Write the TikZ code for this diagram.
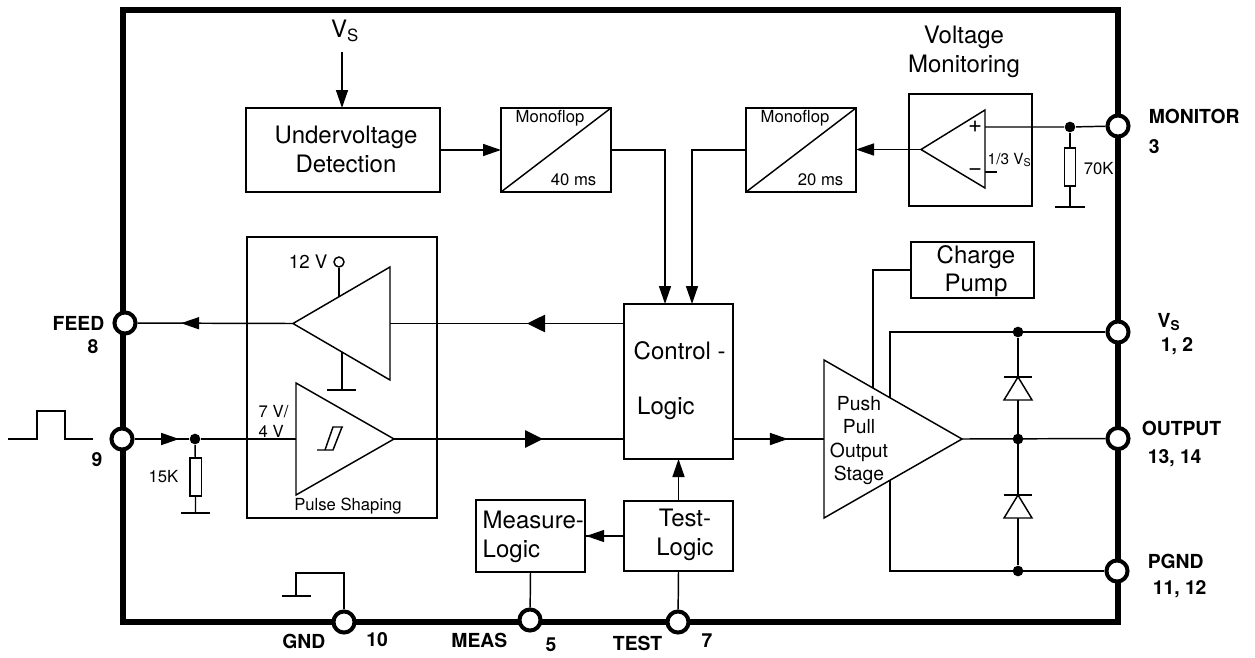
\documentclass[tikz,border=0pt]{standalone}
\usepackage{fontspec}
\setmainfont{TeX Gyre Heros}
\usetikzlibrary{arrows.meta}
\usetikzlibrary{decorations.markings}
\newcommand{\fsize}[1]{\fontsize{#1}{#1}\selectfont}
\begin{document}
\begin{tikzpicture}[x=0.75pt,y=-0.75pt,line width=1.1pt,line join=miter,
         frame/.style = {line width=3.9pt},
         pin/.style = {circle,draw,fill=white,line width=3pt,minimum size=15.8pt,inner sep=0pt},
         dot/.style = {circle,fill=black,minimum size=8pt,inner sep=0pt},
         block/.style = {draw,inner sep=0pt,outer sep=0pt},
         amp/.style = {draw,fill=white},
         res/.style = {draw,fill=white,inner sep=0pt,minimum width=8.6pt,minimum height=28.5pt},
         gndbar/.style = {line width=1.8pt},
         big/.style = {font=\fontsize{18}{21.5}\selectfont,align=center,inner sep=0pt},
         mid/.style = {font=\fsize{14},inner sep=0pt},
         small/.style = {font=\fsize{12.5},inner sep=0pt},
         pinlabel/.style = {font=\fsize{14.5}\bfseries,inner sep=0pt},
         flow/.style = {postaction={decorate},decoration={markings,mark=at position #1 with
            {\arrow{Triangle[length=13.5pt,width=9pt]}}}},
         flowbig/.style = {postaction={decorate},decoration={markings,mark=at position #1 with
            {\arrow{Triangle[length=13.5pt,width=13pt]}}}},
         tipend/.style = {-{Triangle[length=13.5pt,width=9pt]}}
]
      \useasboundingbox (0,0) rectangle (1255,657);
      \draw[frame] (123,10) rectangle (1118,622);

      % pins
      \node[pin] (pmon) at (1118,126) {};
      \node[pin] (pvs)  at (1118,332) {};
      \node[pin] (pout) at (1118,438.5) {};
      \node[pin] (pgnd) at (1117,571) {};
      \node[pin] (pfeed) at (125,323) {};
      \node[pin] (pin9) at (122,439) {};
      \node[pin] (pgn)  at (344,622) {};
      \node[pin] (pmeas) at (530,620) {};
      \node[pin] (ptest) at (678,622) {};

      % blocks
      \node[block,minimum width=145.5pt,minimum height=63pt] (uvd) at (343,150) {};
      \node[block,minimum width=82.5pt,minimum height=63pt] (monoa) at (556,150) {};
      \node[block,minimum width=82.5pt,minimum height=63pt] (monob) at (801,150) {};
      \node[block,minimum width=92.25pt,minimum height=84pt] (vmon) at (970.5,150) {};
      \node[block,minimum width=92.25pt,minimum height=42pt] (cpump) at (972.5,270) {};
      \node[block,minimum width=142.5pt,minimum height=210.75pt] (pshape) at (342,377.5) {};
      \node[block,minimum width=81.75pt,minimum height=116.25pt] (ctrl) at (678.5,381.5) {};
      \node[block,minimum width=81.75pt,minimum height=52.5pt] (tlog) at (678.5,536) {};
      \node[block,minimum width=81.75pt,minimum height=54pt] (mlog) at (530.5,536) {};

      \draw (monoa.south west) -- (monoa.north east);
      \draw (monob.south west) -- (monob.north east);

      % fixed points
      \coordinate (vstop) at (342,52);
      \coordinate (mona) at (665,150);
      \coordinate (monb) at (692,150);
      \coordinate (ctrla) at (665,304);
      \coordinate (ctrlb) at (692,304);
      \coordinate (cmptip) at (921,149.5);
      \coordinate (cmpa) at (985,110);
      \coordinate (cmpb) at (985,188);
      \coordinate (cmpplus) at (985,127);
      \coordinate (cmpminus) at (985,172);
      \coordinate (cmpstub) at (997,172);
      \coordinate (drvtip) at (293,323.5);
      \coordinate (drva) at (390,267);
      \coordinate (drvb) at (390,380);
      \coordinate (drvin) at (390,323.5);
      \coordinate (shptip) at (394,439);
      \coordinate (shpa) at (296,383);
      \coordinate (shpb) at (296,495);
      \coordinate (shpin) at (296,439);
      \coordinate (pptip) at (962,439);
      \coordinate (ppa) at (824,360);
      \coordinate (ppb) at (824,518);
      \coordinate (ppin) at (824,439);
      \coordinate (railtop) at (890,332);
      \coordinate (railbot) at (890,571);
      \coordinate (cpwire) at (873,400);

      \node[dot] (dmon) at (1070,127) {};
      \node[dot] (dvs)  at (1018,332) {};
      \node[dot] (dout) at (1018,439) {};
      \node[dot] (dgnd) at (1018,571) {};
      \node[dot] (din)  at (195,439) {};
      \node[res] (rmon) at (1070,167) {};
      \node[res] (rin)  at (195.5,477) {};
      \node[circle,draw,fill=white,inner sep=0pt,minimum size=7.5pt] (vdd) at (339,262) {};

      % connectors
      \draw[tipend] (vstop) -- (uvd.north -| vstop);
      \draw[tipend] (uvd.east) -- (monoa.west);
      \draw[tipend] (monoa.east |- mona) -- (mona) -- (ctrla);
      \draw[tipend] (monob.west |- monb) -- (monb) -- (ctrlb);
      \draw[tipend] (cmptip) -- (monob.east |- cmptip);
      \draw (cmpplus) -- (dmon) -- (pmon);
      \draw (cmpminus) -- (cmpstub);
      \draw (dmon) -- (rmon) -- ++(0,40) coordinate (gmon);
      \draw (cpump.west) -- (cpump.west -| cpwire) -- (cpwire);
      \draw (pvs) -- (railtop) -- (railbot) -- (pgnd);
      \draw (pptip) -- (pout);
      \draw (dvs) -- (dgnd);
      \draw[flowbig=0.293] (ctrl.west |- drvin) -- (drvtip);
      \draw[flow=0.72] (drvtip) -- (pfeed);
      \draw[flow=0.82] (pin9) -- (din);
      \draw (din) -- (shpin);
      \draw (din) -- (rin) -- ++(0,36) coordinate (gin);
      \draw (vdd) -- (339,300);
      \draw (342,350) -- (342,390) coordinate (gdrv);
      \draw[flowbig=0.648] (shptip) -- (ctrl.west |- shptip);
      \draw[flow=0.604] (ctrl.east |- ppin) -- (ppin);
      \draw[flow=0.97] (tlog.west) -- (mlog.east);
      \draw[flow=1] (tlog.north) -- (ctrl.south);
      \draw (tlog.south) -- (ptest);
      \draw (mlog.south) -- (pmeas);
      \draw (pgn) -- (344,573) -- (296,573) -- (296,596) coordinate (ggn);

      % ground bars
      \draw[gndbar] (1055,207) -- (1085,207);
      \draw[gndbar] (181,513) -- (210,513);
      \draw[gndbar] (327,390) -- (356,390);
      \draw (282,596) -- (311,596);

      % amplifiers
      \draw[amp] (cmptip) -- (cmpa) -- (cmpb) -- cycle;
      \draw[amp] (drvtip) -- (drva) -- (drvb) -- cycle;
      \draw[amp] (shptip) -- (shpa) -- (shpb) -- cycle;
      \draw[amp] (pptip) -- (ppa) -- (ppb) -- cycle;

      % diodes
      \draw[amp] (1018,377) -- (1004,400) -- (1032,400) -- cycle;
      \draw (1004,377) -- (1032,377);
      \draw[amp] (1018,495) -- (1004,518) -- (1032,518) -- cycle;
      \draw (1004,495) -- (1032,495);

      % hysteresis
      \draw (317,450) -- (333,450) -- (342,427);
      \draw (325,450) -- (333,427) -- (343,427);

      % input pulse
      \draw[line width=1.4pt] (8,439) -- (37,439) -- (37,411) -- (65,411) -- (65,439) -- (93,439);

      % texts
      \node[big] (tvs) at (345,31) {V\textsubscript{S}};
      \node[big] (tuvd) at (346,149.5) {Undervoltage\\Detection};
      \node[small,anchor=west] (tma) at (515,118) {Monoflop};
      \node[small,anchor=east] (tmat) at (597,180) {40 ms};
      \node[small,anchor=west] (tmb) at (760,118) {Monoflop};
      \node[small,anchor=east] (tmbt) at (844,180) {20 ms};
      \node[big] (tvm) at (964,52) {Voltage\\Monitoring};
      \node[big] (tplus) at (975,127) {+};
      \node[big] (tminus) at (975,172) {\textminus};
      \node[font=\fsize{11.5},inner sep=0pt,anchor=west] (tthird) at (987,160) {1/3 V\textsubscript{S}};
      \node[small,anchor=west] (t70) at (1083,169) {70K};
      \node[big] (tcp) at (976,271) {Charge\\Pump};
      \node[big,anchor=west] (tcl) at (633,351) {Control -};
      \node[big,anchor=west] (tlg) at (636.5,408) {Logic};
      \node[font=\fsize{14.5},align=center,inner sep=0pt] (tpp) at (859,440.5) {Push\\[3.2pt]Pull\\[3.2pt]Output\\[3.2pt]Stage};
      \node[big] (ttl) at (685,535) {Test-\\Logic};
      \node[big,align=left,anchor=west] (tml) at (482,537) {Measure-\\Logic};
      \node[mid,anchor=east] (t12) at (328,262) {12 V};
      \node[small,anchor=west] (t74a) at (258,412) {7 V/};
      \node[small,anchor=west] (t74b) at (258,431) {4 V};
      \node[small] (tps) at (348,506) {Pulse Shaping};
      \node[small,anchor=east] (t15) at (179,477) {15K};
      \node[pinlabel,anchor=west] (lmon) at (1148,116) {MONITOR};
      \node[pinlabel,anchor=west] (lmonn) at (1148,147) {3};
      \node[pinlabel] (lvs) at (1169,322) {V\textsubscript{S}};
      \node[pinlabel] (lvsn) at (1177,346) {1, 2};
      \node[pinlabel,anchor=west] (lout) at (1141,428) {OUTPUT};
      \node[pinlabel,anchor=west] (loutn) at (1147,458) {13, 14};
      \node[pinlabel,anchor=west] (lpg) at (1147,561) {PGND};
      \node[pinlabel,anchor=west] (lpgn) at (1152,589) {11, 12};
      \node[pinlabel,anchor=east] (lfeed) at (105,323) {FEED};
      \node[pinlabel] (lfn) at (93,347) {8};
      \node[pinlabel] (l9) at (97,460) {9};
      \node[pinlabel,anchor=east] (lgn) at (326,641) {GND};
      \node[pinlabel] (lgnn) at (377,640) {10};
      \node[pinlabel,anchor=east] (lme) at (508,640) {MEAS};
      \node[pinlabel] (lmen) at (551,645) {5};
      \node[pinlabel,anchor=east] (lte) at (663,643) {TEST};
      \node[pinlabel] (lten) at (707,641) {7};
\end{tikzpicture}
\end{document}
